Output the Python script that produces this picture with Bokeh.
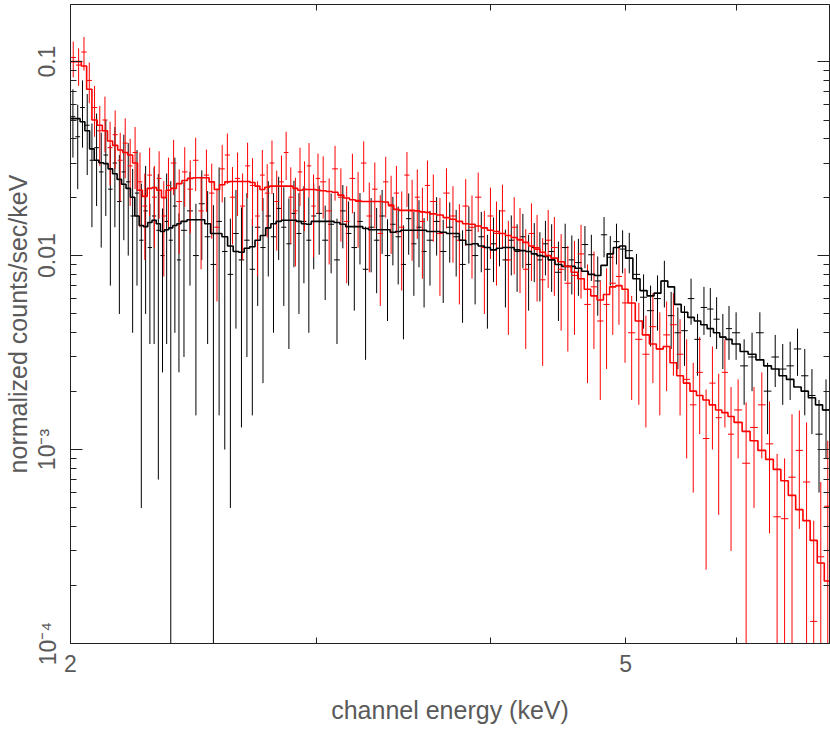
import numpy as np
from bokeh.plotting import figure
from bokeh.models import Range1d, FixedTicker, CustomJSTickFormatter, LogAxis
from bokeh.embed import file_html
from bokeh.resources import INLINE

# ---------------- data ----------------
# black spectrum: channel bin edges (keV), rate, 1-sigma error, model
black_edges = [2.000, 2.016, 2.032, 2.048, 2.064, 2.080, 2.096, 2.112, 2.128, 2.144,
               2.160, 2.176, 2.192, 2.208, 2.224, 2.240, 2.256, 2.272, 2.288, 2.304,
               2.320, 2.336, 2.352, 2.368, 2.384, 2.400,
               2.424, 2.448, 2.472, 2.496, 2.520, 2.544, 2.568, 2.592, 2.616, 2.640,
               2.664, 2.688, 2.712, 2.736, 2.760, 2.784, 2.808, 2.832, 2.856, 2.880,
               2.904, 2.928, 2.952, 2.976, 3.000,
               3.03, 3.06, 3.09, 3.12, 3.15, 3.18, 3.21, 3.24, 3.27, 3.30,
               3.33, 3.36, 3.39, 3.42, 3.45, 3.48, 3.51, 3.54, 3.57, 3.60,
               3.64, 3.68, 3.72, 3.76, 3.80, 3.84, 3.88, 3.92, 3.96, 4.00,
               4.04, 4.08, 4.12, 4.16, 4.20, 4.24, 4.28, 4.32, 4.36, 4.40,
               4.45, 4.50, 4.55, 4.60, 4.65, 4.70, 4.75, 4.80, 4.85, 4.90, 4.95, 5.00,
               5.06, 5.12, 5.18, 5.24, 5.30, 5.36, 5.42, 5.48, 5.54, 5.60,
               5.66, 5.72, 5.78, 5.84, 5.90, 5.96,
               6.04, 6.12, 6.20, 6.28, 6.36, 6.44, 6.52, 6.60, 6.68, 6.76, 6.84, 6.92, 7.00]
black_rate = [0.052, 0.041, 0.058, 0.047, 0.031, 0.036, 0.027, 0.033, 0.022, 0.030,
              0.019, 0.027, 0.024, 0.016, 0.021, 0.012, 0.017, 0.011, 0.016, 0.0135,
              0.010, 0.015, 0.012, 0.018, 0.0095,
              0.0135, 0.0170, 0.0100, 0.0185, 0.0125, 0.0090, 0.0150, 0.0105, 0.0080, 0.0130,
              0.0095, 0.0120, 0.0085, 0.0140, 0.0110, 0.0160, 0.0125, 0.0175, 0.0140, 0.0115,
              0.0165, 0.0130, 0.0150, 0.0120, 0.0160,
              0.0165, 0.0120, 0.0145, 0.0095, 0.0170, 0.0130, 0.0110, 0.0150, 0.0085, 0.0140,
              0.0120, 0.0160, 0.0100, 0.0145, 0.0125, 0.0090, 0.0155, 0.0115, 0.0140, 0.0105,
              0.0120, 0.0150, 0.0105, 0.0140, 0.0125, 0.0090, 0.0135, 0.0100, 0.0125, 0.0085,
              0.0115, 0.0130, 0.0095, 0.0120, 0.0105, 0.0125, 0.0090, 0.0110, 0.0095, 0.0115,
              0.0105, 0.0082, 0.0110, 0.0095, 0.0092, 0.0114, 0.0101, 0.0074, 0.0128, 0.0098,
              0.0118, 0.0108,
              0.0106, 0.0080, 0.0061, 0.0052, 0.0060, 0.0074, 0.0049, 0.0040, 0.0041, 0.0060,
              0.0037, 0.0054, 0.0053, 0.0047, 0.0038, 0.0042,
              0.0040, 0.0027, 0.0030, 0.0040, 0.0020, 0.0030, 0.0026, 0.0027, 0.0033, 0.0024,
              0.0019, 0.0012, 0.0016]
black_err = [0.020, 0.019, 0.022, 0.021, 0.017, 0.018, 0.016, 0.017, 0.015, 0.016,
             0.014, 0.015, 0.014, 0.012, 0.014, 0.0115, 0.012, 0.0075, 0.0125, 0.0128,
             0.0075, 0.0115, 0.0122, 0.014, 0.0070,
             0.0105, 0.0100, 0.0085, 0.0090, 0.0090, 0.0092, 0.0135, 0.0095, 0.0075, 0.0088,
             0.0082, 0.0090, 0.0070, 0.0085, 0.0088, 0.0082, 0.0085, 0.0080, 0.0085, 0.0082,
             0.0078, 0.0080, 0.0078, 0.0080, 0.0075,
             0.0064, 0.0061, 0.0064, 0.0060, 0.0061, 0.0060, 0.0058, 0.0060, 0.0056, 0.0058,
             0.0056, 0.0058, 0.0054, 0.0056, 0.0054, 0.0053, 0.0054, 0.0053, 0.0053, 0.0051,
             0.0050, 0.0050, 0.0048, 0.0048, 0.0047, 0.0045, 0.0044, 0.0044, 0.0043, 0.0043,
             0.0042, 0.0042, 0.0041, 0.0041, 0.0040, 0.0039, 0.0038, 0.0037, 0.0037, 0.0036,
             0.0040, 0.0036, 0.0036, 0.0032, 0.0030, 0.0028, 0.0027, 0.0025, 0.0030, 0.0028,
             0.0028, 0.0027,
             0.0025, 0.0022, 0.0019, 0.0018, 0.0019, 0.0020, 0.0016, 0.0014, 0.0014, 0.0016,
             0.0013, 0.0015, 0.0015, 0.0014, 0.0012, 0.0013,
             0.0011, 0.0010, 0.0010, 0.0011, 0.0008, 0.0009, 0.0009, 0.0009, 0.0009, 0.0009,
             0.0007, 0.0006, 0.0007]
black_model = [0.0508, 0.0508, 0.049, 0.044, 0.0355, 0.031, 0.0301, 0.0298, 0.028, 0.0264,
               0.0247, 0.0233, 0.0222, 0.0200, 0.0160, 0.0143, 0.0141, 0.0148, 0.0152, 0.0146,
               0.0133, 0.0136, 0.0139, 0.0143, 0.0146,
               0.0150, 0.0153, 0.0153, 0.0153, 0.0146, 0.0130, 0.0130, 0.0125, 0.0112, 0.0105,
               0.0104, 0.0109, 0.0111, 0.0120, 0.0127, 0.0139, 0.0146, 0.0150, 0.0152, 0.0152,
               0.0152, 0.0150, 0.0146, 0.0145, 0.0150,
               0.0150, 0.0150, 0.0150, 0.0148, 0.0145, 0.0141, 0.0141, 0.0141, 0.0138, 0.0136,
               0.0136, 0.0136, 0.0136, 0.0132, 0.0133, 0.0135, 0.0135, 0.0135, 0.0135, 0.0135,
               0.0133, 0.0133, 0.0132, 0.0130, 0.0130, 0.0120, 0.0114, 0.0115, 0.0112, 0.0110,
               0.0107, 0.0109, 0.0110, 0.0110, 0.0107, 0.0106, 0.0105, 0.0102, 0.0100, 0.0099,
               0.0095, 0.0090, 0.0088, 0.0088, 0.0086, 0.0083, 0.0080, 0.0079, 0.0089, 0.0102,
               0.0110, 0.0112,
               0.0097, 0.0076, 0.0066, 0.0062, 0.0064, 0.0074, 0.0069, 0.0056, 0.0051, 0.0048,
               0.0046, 0.0044, 0.0042, 0.0040, 0.0038, 0.0037,
               0.0035, 0.0032, 0.0031, 0.0029, 0.0027, 0.0026, 0.0024, 0.0023, 0.0021, 0.0020,
               0.00185, 0.0017, 0.0016]

# red spectrum
red_edges = [2.000, 2.018, 2.036, 2.054, 2.072, 2.090, 2.108, 2.126, 2.144, 2.162,
             2.180, 2.198, 2.216, 2.234, 2.252, 2.270, 2.288, 2.306, 2.324, 2.342, 2.360,
             2.382, 2.404, 2.426, 2.448, 2.470, 2.492, 2.514, 2.536, 2.558, 2.580,
             2.602, 2.624, 2.646, 2.668, 2.690, 2.712, 2.734, 2.756, 2.778, 2.800,
             2.822, 2.844, 2.866, 2.888, 2.910, 2.932, 2.954, 2.976, 2.998, 3.020,
             3.05, 3.08, 3.11, 3.14, 3.17, 3.20, 3.23, 3.26, 3.29, 3.32,
             3.35, 3.38, 3.41, 3.44, 3.47, 3.50, 3.53, 3.56, 3.59, 3.62,
             3.66, 3.70, 3.74, 3.78, 3.82, 3.86, 3.90, 3.94, 3.98, 4.02,
             4.06, 4.10, 4.14, 4.18, 4.22, 4.26, 4.30, 4.34, 4.38, 4.42,
             4.47, 4.52, 4.57, 4.62, 4.67, 4.72, 4.77, 4.82, 4.87, 4.92, 4.97, 5.02,
             5.08, 5.14, 5.20, 5.26, 5.32, 5.38, 5.44, 5.50, 5.56, 5.62,
             5.68, 5.74, 5.80, 5.86, 5.92, 5.98,
             6.06, 6.14, 6.22, 6.30, 6.38, 6.46, 6.54, 6.62, 6.70, 6.78, 6.86, 6.94, 7.02]
red_rate = [0.105, 0.096, 0.112, 0.080, 0.058, 0.044, 0.050, 0.036, 0.042, 0.031,
            0.038, 0.029, 0.034, 0.024, 0.018, 0.026, 0.020, 0.025, 0.016, 0.023,
            0.030, 0.019, 0.027, 0.022, 0.031, 0.017, 0.026, 0.021, 0.014, 0.028,
            0.033, 0.020, 0.025, 0.018, 0.029, 0.023, 0.016, 0.026, 0.021, 0.030,
            0.019, 0.024, 0.034, 0.020, 0.017, 0.027, 0.022, 0.029, 0.018, 0.025,
            0.024, 0.017, 0.028, 0.020, 0.015, 0.025, 0.019, 0.030, 0.016, 0.022,
            0.013, 0.024, 0.018, 0.021, 0.014, 0.026, 0.017, 0.020, 0.015, 0.023,
            0.019, 0.013, 0.021, 0.016, 0.012, 0.018, 0.014, 0.020, 0.011, 0.016,
            0.013, 0.017, 0.0095, 0.014, 0.012, 0.0085, 0.013, 0.011, 0.0075, 0.012,
            0.0110, 0.0085, 0.0072, 0.0079, 0.0102, 0.0056, 0.0069, 0.0046, 0.0056, 0.0072,
            0.0078, 0.0057,
            0.0040, 0.0037, 0.0031, 0.0043, 0.0033, 0.0039, 0.0044, 0.0031, 0.0023, 0.0017,
            0.0025, 0.00114, 0.0022, 0.00146, 0.0025, 0.0012,
            0.0016, 0.00085, 0.0013, 0.0017, 0.00107, 0.00045, 0.00044, 0.00072, 0.00099, 0.00068,
            0.00013, 0.00028, 0.00051]
red_err = [0.022, 0.021, 0.022, 0.019, 0.017, 0.015, 0.016, 0.013, 0.014, 0.012,
           0.013, 0.011, 0.012, 0.010, 0.0085, 0.010, 0.009, 0.0095, 0.0082, 0.0090,
           0.0095, 0.0088, 0.0092, 0.0090, 0.0095, 0.0085, 0.0092, 0.0088, 0.0082, 0.0092,
           0.0096, 0.0086, 0.0090, 0.0085, 0.0092, 0.0088, 0.0082, 0.0090, 0.0086, 0.0092,
           0.0084, 0.0088, 0.0095, 0.0085, 0.0082, 0.0090, 0.0086, 0.0090, 0.0082, 0.0086,
           0.0085, 0.0080, 0.0088, 0.0082, 0.0078, 0.0085, 0.0080, 0.0088, 0.0078, 0.0082,
           0.0075, 0.0083, 0.0078, 0.0080, 0.0074, 0.0082, 0.0076, 0.0078, 0.0074, 0.0079,
           0.0072, 0.0068, 0.0072, 0.0068, 0.0064, 0.0068, 0.0064, 0.0068, 0.0060, 0.0064,
           0.0060, 0.0062, 0.0056, 0.0060, 0.0056, 0.0052, 0.0056, 0.0052, 0.0048, 0.0052,
           0.0048, 0.0044, 0.0040, 0.0040, 0.0042, 0.0034, 0.0036, 0.0028, 0.0030, 0.0033,
           0.0034, 0.0029,
           0.0022, 0.0020, 0.0018, 0.0021, 0.0018, 0.0019, 0.0020, 0.0016, 0.0014, 0.0011,
           0.0013, 0.0009, 0.0012, 0.0010, 0.0012, 0.0009,
           0.0007, 0.0009, 0.0008, 0.0008, 0.0007, 0.0005, 0.00046, 0.0008, 0.0006, 0.0007,
           0.0003, 0.0004, 0.0006]
red_model = [0.100, 0.100, 0.095, 0.072, 0.050, 0.047, 0.044, 0.039, 0.037, 0.035,
             0.034, 0.033, 0.030, 0.0217, 0.0202, 0.0222, 0.0224, 0.0217, 0.0199, 0.0217,
             0.0222, 0.0235, 0.0244, 0.0250, 0.0252, 0.0252, 0.0252, 0.0240, 0.0219, 0.0232,
             0.0240, 0.0241, 0.0241, 0.0241, 0.0241, 0.0238, 0.0228, 0.0219, 0.0225, 0.0228,
             0.0228, 0.0228, 0.0228, 0.0228, 0.0222, 0.0217, 0.0219, 0.0219, 0.0219, 0.0218,
             0.0216, 0.0214, 0.0212, 0.0205, 0.0198, 0.0194, 0.0192, 0.0190, 0.0190, 0.0190,
             0.0190, 0.0189, 0.0182, 0.0173, 0.0171, 0.0171, 0.0171, 0.0170, 0.0168, 0.0167,
             0.0164, 0.0162, 0.0157, 0.0154, 0.0150, 0.0146, 0.0145, 0.0142, 0.0139, 0.0135,
             0.0133, 0.0130, 0.0127, 0.0124, 0.0121, 0.0117, 0.0112, 0.0108, 0.0104, 0.0100,
             0.0097, 0.0093, 0.0088, 0.0082, 0.0076, 0.0067, 0.0062, 0.0059, 0.0063, 0.0069,
             0.0070, 0.0067,
             0.0057, 0.0046, 0.0039, 0.0035, 0.0033, 0.0034, 0.0028, 0.0024, 0.0022, 0.0020,
             0.0019, 0.0018, 0.0017, 0.0016, 0.00155, 0.00148,
             0.00138, 0.00124, 0.00111, 0.00099, 0.00089, 0.00079, 0.00069, 0.00058, 0.00049, 0.00043,
             0.00034, 0.00026, 0.00021]

x_major_ticks = [2, 5]
x_minor_ticks = [3, 4, 6, 7]
y_major_ticks = [1e-4, 1e-3, 1e-2, 1e-1]
y_tick_labels = ["10\u207b\u2074", "10\u207b\u00b3", "0.01", "0.1"]
y_minor_ticks = [k * 10.0 ** d for d in (-4, -3, -2, -1) for k in range(2, 10)]

x_title = "channel energy (keV)"
y_title = "normalized counts/sec/keV"

# ---------------- figure ----------------
FONT = "Liberation Sans"
TXT = "#5a5a5a"
AX = "#222222"

p = figure(width=830, height=731, x_axis_type="log", y_axis_type="log",
           x_range=Range1d(2.0, 7.0), y_range=Range1d(1e-4, 0.197),
           output_backend="svg", toolbar_location=None,
           min_border_left=68, min_border_right=1, min_border_top=4, min_border_bottom=88)
p.xgrid.visible = False
p.ygrid.visible = False
p.outline_line_color = None
p.background_fill_color = "white"
p.border_fill_color = "white"

xt = FixedTicker(ticks=x_major_ticks, minor_ticks=x_minor_ticks)
yt = FixedTicker(ticks=y_major_ticks, minor_ticks=y_minor_ticks)

x_fmt = CustomJSTickFormatter(args=dict(majors=x_major_ticks),
                              code="return majors.some(t => Math.abs(t - tick) < 1e-6) ? tick.toFixed(0) : '';")
y_fmt = CustomJSTickFormatter(args=dict(majors=y_major_ticks, labs=y_tick_labels),
                              code="""
const i = majors.findIndex(t => Math.abs(Math.log10(t) - Math.log10(tick)) < 1e-6);
return i >= 0 ? labs[i] : '';
""")
blank_fmt = CustomJSTickFormatter(code="return '';")


def style(ax, ticker, major_len, minor_len, fmt, show):
    ax.ticker = ticker
    ax.formatter = fmt
    ax.axis_line_color = AX
    ax.axis_line_width = 1
    ax.major_tick_line_color = AX
    ax.minor_tick_line_color = AX
    ax.major_tick_in = major_len
    ax.major_tick_out = 0
    ax.minor_tick_in = minor_len
    ax.minor_tick_out = 0
    ax.major_label_text_font = FONT
    ax.major_label_text_color = TXT
    if show:
        ax.major_label_text_font_size = "23px"
        ax.axis_label_text_font = FONT
        ax.axis_label_text_font_size = "25px"
        ax.axis_label_text_font_style = "normal"
        ax.axis_label_text_color = TXT
    else:
        ax.major_label_text_font_size = "0px"
        ax.major_label_standoff = 0


style(p.xaxis[0], xt, 6, 6, x_fmt, True)
p.xaxis[0].major_label_standoff = 11
p.xaxis[0].axis_label = x_title
p.xaxis[0].axis_label_standoff = 21

style(p.yaxis[0], yt, 12, 6, y_fmt, True)
p.yaxis[0].major_label_orientation = "vertical"
p.yaxis[0].major_label_standoff = 10
p.yaxis[0].axis_label = y_title
p.yaxis[0].axis_label_standoff = 0

top = LogAxis()
p.add_layout(top, "above")
style(top, FixedTicker(ticks=x_major_ticks, minor_ticks=x_minor_ticks), 6, 6, blank_fmt, False)
right = LogAxis()
p.add_layout(right, "right")
style(right, FixedTicker(ticks=y_major_ticks, minor_ticks=y_minor_ticks), 12, 6, blank_fmt, False)


def draw_data(edges, rate, err, color):
    e = np.asarray(edges, dtype=float)
    r = np.asarray(rate, dtype=float)
    s = np.asarray(err, dtype=float)
    lo, hi = e[:-1], e[1:]
    mid = 0.5 * (lo + hi)
    p.segment(x0=lo, y0=r, x1=hi, y1=r, line_color=color, line_width=1)
    p.segment(x0=mid, y0=np.maximum(r - s, 1e-7), x1=mid, y1=r + s,
              line_color=color, line_width=1)


def draw_model(edges, model, color):
    e = np.asarray(edges, dtype=float)
    m = np.asarray(model, dtype=float)
    xs = np.repeat(e, 2)[1:-1]
    ys = np.repeat(m, 2)
    p.line(xs, ys, line_color=color, line_width=1.6)


draw_data(black_edges, black_rate, black_err, "#000000")
draw_data(red_edges, red_rate, red_err, "#ff0000")
draw_model(black_edges, black_model, "#000000")
draw_model(red_edges, red_model, "#ff0000")

open("out.html", "w").write(file_html(p, INLINE))
